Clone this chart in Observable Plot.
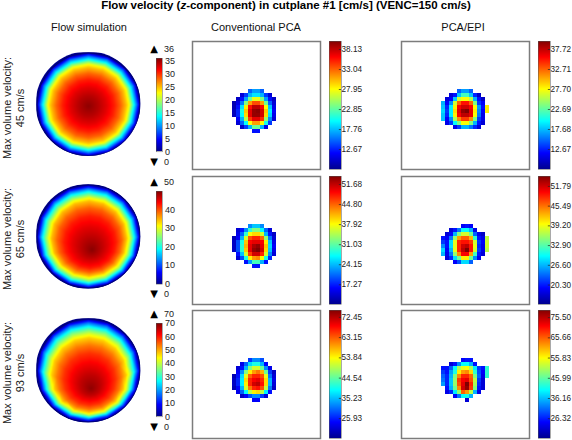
<!DOCTYPE html>
<html>
<head>
<meta charset="utf-8">
<script src="https://cdn.jsdelivr.net/npm/d3@7"></script>
<script src="https://cdn.jsdelivr.net/npm/@observablehq/plot@0.6"></script>
<style>
html,body{margin:0;padding:0;background:#fff}
#root{position:relative;width:572px;height:440px;overflow:hidden;font-family:"Liberation Sans",sans-serif;color:#111}
#root svg{position:absolute;background:transparent;overflow:visible}
.t{position:absolute;white-space:nowrap;transform:translate(-50%,-50%);font-size:11px;line-height:1}
</style>
</head>
<body>
<div id="root"></div>
<script>
const _ = null;
const titleParts = ["Flow velocity (", "z", "-component) in cutplane #1 [cm/s] (VENC=150 cm/s)"];
const columnTitles = ["Flow simulation", "Conventional PCA", "PCA/EPI"];
const maxVelocities = ["45 cm/s", "65 cm/s", "93 cm/s"];

// Flow simulation: contour rings (fraction of radius), velocity on each ring, ring centre drift
const ringRadius = [1, .97, .93, .87, .83, .78, .72, .62, .5, .35, .2, 0];
const simVelocity1 = [0, 4, 8.5, 14, 18, 22.5, 25, 28, 30.5, 32.5, 34, 35.5];
const simVelocity2 = [0, 5.5, 12, 20, 25, 30, 34.5, 39, 42.5, 45, 47, 49.5];
const simVelocity3 = [0, 7.5, 16, 27, 34, 41, 47, 53, 58, 62, 65.5, 69];
const simDriftX1 = [0, 0, 0, 0, 0, 0, 0, 0, 0, 0, 0, 0];
const simDriftY1 = [0, 0, 0, .005, .005, .01, .015, .02, .02, .025, .03, .03];
const simDriftX2 = [0, 0, 0, 0, .005, .01, .01, .02, .03, .04, .055, .07];
const simDriftY2 = [0, .005, .01, .02, .03, .03, .04, .07, .11, .16, .21, .26];
const simDriftX3 = [0, 0, 0, 0, .005, .01, .01, .015, .02, .03, .04, .05];
const simDriftY3 = [0, .005, .01, .03, .05, .07, .09, .13, .17, .22, .28, .35];

// Left colour bars
const simDomains = [[0, 36], [0, 50], [0, 70]];
const simTicks = [[0, 5, 10, 15, 20, 25, 30, 35], [0, 10, 20, 30, 40], [0, 10, 20, 30, 40, 50, 60, 70]];
const simMax = ["36", "50", "70"];

// MRI colour bars
const convDomains = [[7.58, 40.17], [10.5, 54.43], [16.8, 75.6]];
const epiDomains = [[7.66, 39.72], [14.1, 54.94], [16.7, 78.96]];
const convTicks = [
  [12.67, 17.76, 22.85, 27.95, 33.04, 38.13],
  [17.27, 24.15, 31.03, 37.92, 44.80, 51.68],
  [25.93, 35.23, 44.54, 53.84, 63.15, 72.45]];
const epiTicks = [
  [12.67, 17.68, 22.69, 27.70, 32.71, 37.72],
  [20.30, 26.60, 32.90, 39.20, 45.49, 51.79],
  [26.32, 36.16, 45.99, 55.83, 65.66, 75.50]];

// Measured voxels, percent of each colour bar's range, 4-px voxels starting at column 10, row 12 of a 32x32 image
const conv1 = [
[_,_,_,_,22,28,28,22,_,_,_],
[_,_,8,18,30,35,35,30,18,8,_],
[_,6,14,28,48,60,60,50,28,14,6],
[4,10,24,50,72,80,80,72,48,22,8],
[4,14,35,64,86,94,94,88,62,32,10],
[5,16,40,68,90,98,99,92,68,36,12],
[5,16,38,66,90,98,98,92,66,34,10],
[_,12,30,55,82,90,90,84,52,26,8],
[_,8,22,38,62,72,72,62,40,18,_],
[_,_,6,18,30,48,48,30,10,_,_],
[_,_,_,_,_,14,14,_,_,_,_]];
const epi1 = [
[_,_,_,_,22,28,28,22,_,_,_,_],
[_,_,8,14,32,44,44,32,16,6,_,_],
[_,8,12,32,58,62,62,55,30,14,6,_],
[30,12,26,58,78,86,86,78,50,18,12,_],
[32,16,36,64,88,92,92,88,62,28,14,64],
[34,18,36,66,90,98,100,90,64,26,12,64],
[32,16,36,64,88,94,94,90,62,24,10,_],
[32,12,26,54,74,82,82,74,50,18,10,_],
[_,10,18,38,50,62,62,50,30,14,8,_],
[_,_,_,10,18,30,30,24,16,8,_,_]];
const conv2 = [
[_,_,_,_,26,32,32,26,_,_,_],
[_,8,14,26,42,50,50,38,22,8,_],
[_,10,22,42,62,66,66,58,30,14,6],
[4,12,30,58,80,84,84,78,52,24,8],
[6,20,40,68,88,90,90,88,64,32,10],
[6,20,42,70,90,96,98,90,68,34,12],
[6,20,42,68,90,98,100,92,66,32,10],
[_,14,32,58,82,92,92,84,58,26,8],
[_,8,20,40,64,72,74,62,40,16,_],
[_,_,_,14,28,44,44,30,14,_,_],
[_,_,_,_,_,14,14,_,_,_,_]];
const epi2 = [
[_,_,_,_,_,12,14,12,_,_,_,_],
[_,_,8,14,24,38,38,30,10,_,_,_],
[_,8,12,30,50,58,58,48,22,10,6,_],
[14,12,24,52,72,78,78,70,42,14,10,56],
[18,14,34,60,84,86,86,82,58,18,12,58],
[26,14,34,60,84,92,94,86,60,16,10,58],
[34,12,30,60,84,94,100,86,58,18,10,56],
[30,10,24,52,74,88,88,72,44,14,8,_],
[_,8,16,34,48,64,64,48,26,10,_,_],
[_,_,_,12,20,34,34,22,_,_,_,_]];
const conv3 = [
[_,_,_,_,18,26,26,20,_,_,_],
[_,_,10,22,34,40,40,30,12,_,_],
[_,8,14,30,50,58,58,48,26,10,_],
[_,12,26,50,64,72,76,70,48,18,6],
[4,14,34,60,78,84,84,80,60,24,8],
[6,16,36,66,84,88,90,84,66,30,10],
[6,16,36,64,84,92,94,86,66,30,8],
[4,12,30,58,76,84,86,80,56,24,6],
[_,10,22,38,56,64,66,56,36,14,_],
[_,_,6,12,20,26,26,18,8,_,_],
[_,_,_,_,_,12,12,_,_,_,_]];
const epi3 = [
[_,_,_,_,_,12,14,14,_,_,_,_],
[_,_,8,14,26,38,38,30,14,_,_,_],
[14,14,22,38,54,60,62,54,36,18,14,42],
[18,14,28,40,64,72,74,66,42,20,12,42],
[22,16,30,50,74,84,84,78,50,22,10,42],
[24,16,32,52,82,88,90,80,56,18,8,_],
[28,16,32,52,80,90,100,84,54,16,8,_],
[_,14,30,48,74,92,98,82,50,14,8,_],
[_,10,16,36,52,78,72,56,30,10,_,_],
[_,_,_,12,24,38,40,30,_,_,_,_],
[_,_,_,_,_,_,8,_,_,_,_,_]];

const simVelocities = [simVelocity1, simVelocity2, simVelocity3];
const simDriftX = [simDriftX1, simDriftX2, simDriftX3];
const simDriftY = [simDriftY1, simDriftY2, simDriftY3];
const convGrids = [conv1, conv2, conv3];
const epiGrids = [epi1, epi2, epi3];

const root = document.getElementById("root");
const jet = d3.piecewise(d3.interpolateRgb, ["#00008f", "#0000ff", "#0080ff", "#00ffff", "#80ff80", "#ffff00", "#ff8000", "#ff0000", "#800000"]);
const colorScale = domain => ({type: "linear", domain, interpolate: t => jet(t), clamp: true});

function place(svg, left, top) { svg.style.left = left + "px"; svg.style.top = top + "px"; root.appendChild(svg); }
function label(html, x, y, extra = "") {
  const d = document.createElement("div");
  d.className = "t"; d.innerHTML = html; d.style.cssText = `left:${x}px;top:${y}px;${extra}`;
  root.appendChild(d);
}

function disc(i, cy) {
  const pts = [];
  ringRadius.forEach((r, k) => {
    const n = r === 0 ? 1 : 16;
    for (let a = 0; a < n; a++) {
      const th = 2 * Math.PI * a / n;
      pts.push({x: simDriftX[i][k] + r * Math.cos(th), y: -simDriftY[i][k] + r * Math.sin(th), v: simVelocities[i][k]});
    }
  });
  const p = Plot.plot({
    width: 108, height: 108, margin: 2, axis: null,
    x: {domain: [-1, 1]}, y: {domain: [-1, 1]},
    color: colorScale(simDomains[i]),
    marks: [
      Plot.raster(pts, {x: "x", y: "y", fill: "v", interpolate: "barycentric", pixelSize: 1}),
      Plot.dot([{x: 0, y: 0}], {x: "x", y: "y", r: 51.6, stroke: "#00007a", strokeWidth: 1.2, fill: "none"})
    ]
  });
  p.style.clipPath = "circle(52.4px at 54px 54px)";
  place(p, 34, cy - 54);
}

function grid(matrix, domain, left, top) {
  const [lo, hi] = domain;
  const cells = [];
  matrix.forEach((row, r) => row.forEach((pct, c) => {
    if (pct !== null) cells.push({c: c + 10, r: r + 12, v: lo + pct / 100 * (hi - lo)});
  }));
  const p = Plot.plot({
    width: 130, height: 130, margin: 1, axis: null,
    x: {domain: [0, 32]}, y: {domain: [0, 32], reverse: true},
    color: colorScale(domain),
    marks: [
      Plot.rect(cells, {x1: "c", x2: d => d.c + 1, y1: "r", y2: d => d.r + 1, fill: "v", shapeRendering: "crispEdges"}),
      Plot.frame({stroke: "#7c7c7c", strokeWidth: 1.5})
    ]
  });
  place(p, left - 1, top - 1);
}

function bar(domain, ticks, left, top, w, h, opts) {
  const [lo, hi] = domain, steps = Math.round(h);
  const ramp = d3.range(steps).map(i => ({a: lo + (hi - lo) * i / steps, b: lo + (hi - lo) * (i + 1) / steps}));
  const m = 8;
  const p = Plot.plot({
    width: w + opts.right, height: h + 2 * m, marginTop: m, marginBottom: m, marginLeft: 0, marginRight: opts.right,
    x: {domain: [0, 1], axis: null}, y: {domain: [lo, hi]},
    color: colorScale(domain),
    style: {fontFamily: '"Liberation Sans",sans-serif', fontSize: opts.font + "px", color: "#222"},
    marks: [
      Plot.rect(ramp, {x1: 0, x2: 1, y1: "a", y2: "b", fill: d => (d.a + d.b) / 2, shapeRendering: "crispEdges"}),
      Plot.axisY({anchor: "right", ticks, tickSize: 0, tickPadding: opts.pad, tickFormat: opts.format, label: null}),
      Plot.ruleY(opts.marks ? ticks : [], {x1: 0.82, x2: 1, stroke: "#222", strokeWidth: 0.7}),
      Plot.frame({stroke: "#555", strokeWidth: 0.5})
    ]
  });
  place(p, left, top - m);
}

// Titles
const titleHtml = `<b>${titleParts[0]}<i>${titleParts[1]}</i>${titleParts[2]}</b>`;
label(titleHtml, 286, 6, "font-size:11.5px;color:#000");
label(columnTitles[0], 89, 27);
label(columnTitles[1], 256, 27);
label(columnTitles[2], 463, 27);

const discCy = [103.7, 236.3, 370];
const rowLabelY = [108, 238.6, 373];
const boxTop = [41, 175.5, 310];
const simBarTop = [57.7, 190.7, 323.3];
const simBarH = [93.3, 92.6, 93.3];
const upY = [49, 182, 314], downY = [161.5, 294, 426.5];

for (let i = 0; i < 3; i++) {
  disc(i, discCy[i]);
  label(`Max volume velocity:<br>${maxVelocities[i]}`, 13, rowLabelY[i], "transform:translate(-50%,-50%) rotate(-90deg);text-align:center;line-height:12.5px;color:#222");
  bar(simDomains[i], simTicks[i], 155.5, simBarTop[i], 6, simBarH[i], {right: 22, pad: 2.5, font: 9, format: d3.format("d"), marks: false});
  label("▲", 154, upY[i], 'font-family:"DejaVu Sans";font-size:10px;color:#000');
  label(simMax[i], 169, upY[i], "font-size:9px;line-height:8px;color:#222");
  label("▼", 154, downY[i], 'font-family:"DejaVu Sans";font-size:10px;line-height:8px;color:#000');
  label("0", 166.5, downY[i], "font-size:9px;line-height:8px;color:#222");

  grid(convGrids[i], convDomains[i], 192, boxTop[i]);
  bar(convDomains[i], convTicks[i], 329, boxTop[i], 12, 128, {right: 26, pad: 0, font: 8.2, format: d3.format(".2f"), marks: true});
  grid(epiGrids[i], epiDomains[i], 400.5, boxTop[i]);
  bar(epiDomains[i], epiTicks[i], 537.7, boxTop[i], 12, 128, {right: 22, pad: 0, font: 8.2, format: d3.format(".2f"), marks: true});
}
</script>
</body>
</html>
